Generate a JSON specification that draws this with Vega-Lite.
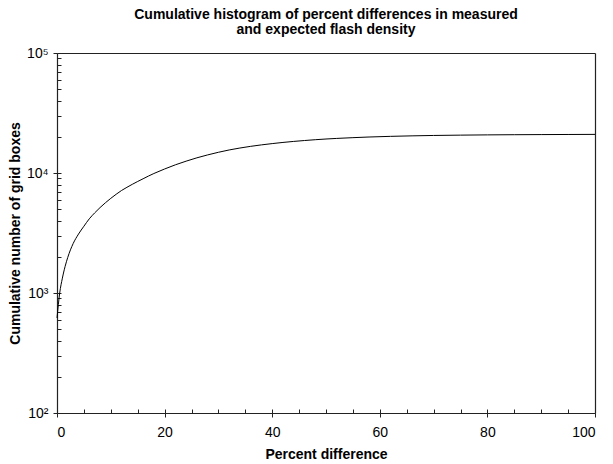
{
  "$schema": "https://vega.github.io/schema/vega-lite/v6.json",
  "width": 538,
  "height": 360,
  "autosize": "none",
  "padding": {"left": 57, "top": 53, "right": 18, "bottom": 51},
  "background": "white",
  "config": {
    "view": {"stroke": null},
    "font": "Liberation Sans",
    "axis": {"domainColor": "#222", "tickColor": "#222", "grid": false, "labelColor": "#000", "titleColor": "#000", "labelFont": "Liberation Sans", "titleFont": "Liberation Sans", "domainWidth": 1.2, "tickWidth": 1}
  },
  "title": {
    "text": ["Cumulative histogram of percent differences in measured", "and expected flash density"],
    "fontSize": 14,
    "fontWeight": "bold",
    "lineHeight": 15,
    "anchor": "middle",
    "offset": 9,
    "color": "#000",
    "font": "Liberation Sans"
  },
  "data": {
    "values": [
      {"p": 0, "n": 620}, {"p": 0.5, "n": 1000}, {"p": 1, "n": 1330}, {"p": 1.5, "n": 1660},
      {"p": 2, "n": 1980}, {"p": 3, "n": 2580}, {"p": 4, "n": 3100}, {"p": 5, "n": 3600},
      {"p": 6, "n": 4150}, {"p": 7, "n": 4650}, {"p": 8, "n": 5150}, {"p": 9, "n": 5650},
      {"p": 10, "n": 6150}, {"p": 11, "n": 6650}, {"p": 12, "n": 7150}, {"p": 13, "n": 7600},
      {"p": 14, "n": 8050}, {"p": 15, "n": 8500}, {"p": 16, "n": 8950}, {"p": 17, "n": 9430},
      {"p": 18, "n": 9900}, {"p": 20, "n": 10800}, {"p": 22, "n": 11700}, {"p": 24, "n": 12550},
      {"p": 26, "n": 13380}, {"p": 28, "n": 14150}, {"p": 30, "n": 14880}, {"p": 32, "n": 15560},
      {"p": 34, "n": 16150}, {"p": 36, "n": 16680}, {"p": 38, "n": 17150}, {"p": 40, "n": 17580},
      {"p": 42, "n": 17980}, {"p": 44, "n": 18330}, {"p": 46, "n": 18650}, {"p": 48, "n": 18940},
      {"p": 50, "n": 19200}, {"p": 52, "n": 19420}, {"p": 55, "n": 19700}, {"p": 58, "n": 19950},
      {"p": 62, "n": 20200}, {"p": 66, "n": 20400}, {"p": 70, "n": 20550}, {"p": 75, "n": 20680},
      {"p": 80, "n": 20780}, {"p": 85, "n": 20850}, {"p": 90, "n": 20900}, {"p": 95, "n": 20940},
      {"p": 100, "n": 20980}
    ]
  },
  "layer": [
    {
      "mark": {"type": "line", "color": "#000", "strokeWidth": 1, "interpolate": "monotone"},
      "encoding": {
        "x": {"field": "p", "type": "quantitative", "scale": {"domain": [0, 100], "nice": false},
          "axis": {"orient": "bottom", "values": [0, 20, 40, 60, 80, 100], "ticks": true, "tickSize": 4, "labelPadding": 8, "labelFontSize": 14, "title": "Percent difference", "titleFontSize": 14, "titleFontWeight": "bold", "titlePadding": 8}},
        "y": {"field": "n", "type": "quantitative", "scale": {"type": "log", "domain": [100, 100000], "nice": false},
          "axis": {"orient": "left", "values": [100, 1000, 10000, 100000], "ticks": true, "tickSize": 4, "labelPadding": 5, "labelFontSize": 14,
            "labelExpr": "'10' + (datum.value == 100 ? '²' : datum.value == 1000 ? '³' : datum.value == 10000 ? '⁴' : '⁵')",
            "title": "Cumulative number of grid boxes", "titleFontSize": 14, "titleFontWeight": "bold", "titlePadding": 4}}
      }
    },
    {
      "mark": {"type": "line", "strokeOpacity": 0},
      "encoding": {
        "x": {"field": "p", "type": "quantitative",
          "axis": {"orient": "bottom", "values": [0, 5, 10, 15, 20, 25, 30, 35, 40, 45, 50, 55, 60, 65, 70, 75, 80, 85, 90, 95, 100], "ticks": true, "tickColor": "#222", "offset": -4, "tickSize": 4, "labels": false, "domain": false, "title": null}},
        "y": {"field": "n", "type": "quantitative",
          "axis": {"orient": "left", "values": [100, 200, 300, 400, 500, 600, 700, 800, 900, 1000, 2000, 3000, 4000, 5000, 6000, 7000, 8000, 9000, 10000, 20000, 30000, 40000, 50000, 60000, 70000, 80000, 90000, 100000], "ticks": true, "tickColor": "#222", "offset": -4, "tickSize": 4, "labels": false, "domain": false, "title": null}}
      }
    },
    {
      "mark": {"type": "line", "strokeOpacity": 0},
      "encoding": {
        "x": {"field": "p", "type": "quantitative",
          "axis": {"orient": "top", "ticks": false, "labels": false, "title": null}},
        "y": {"field": "n", "type": "quantitative",
          "axis": {"orient": "right", "ticks": false, "labels": false, "title": null}}
      }
    }
  ],
  "resolve": {"axis": {"x": "independent", "y": "independent"}}
}
